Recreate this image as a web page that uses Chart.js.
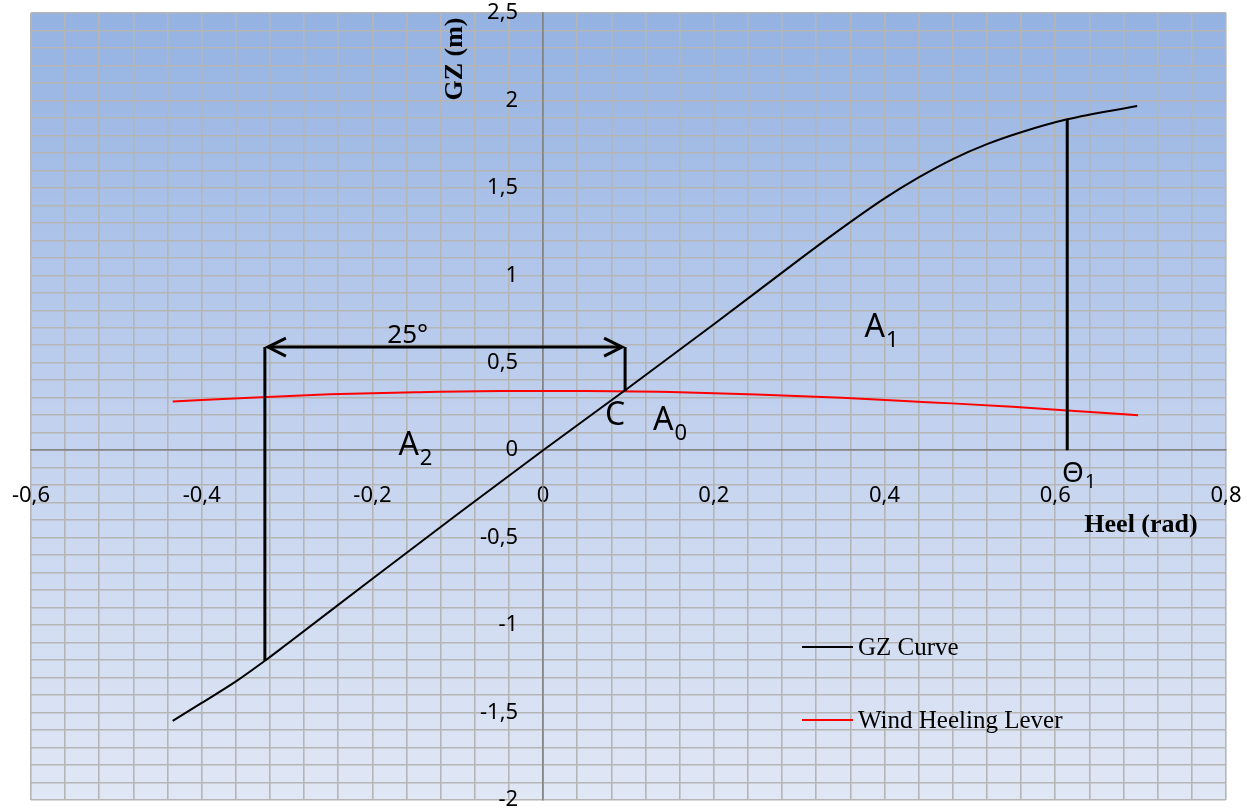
<!DOCTYPE html>
<html>
<head>
<meta charset="utf-8">
<script src="https://cdn.jsdelivr.net/npm/chart.js@4.4.1/dist/chart.umd.min.js"></script>
<style>
  body { margin: 0; background: #ffffff; }
  #wrap { width: 1247px; height: 808px; }
</style>
</head>
<body>
<div id="wrap"><canvas id="gz" width="1247" height="808"></canvas></div>
<script>
// GZ curve
const GZ_HEEL = [-0.434, -0.4, -0.359, -0.326, -0.3, -0.2, -0.1, 0, 0.1, 0.2, 0.3, 0.35, 0.4, 0.44, 0.48, 0.52, 0.56, 0.614, 0.696];
const GZ_VALUES = [-1.548, -1.445, -1.319, -1.204, -1.108, -0.735, -0.365, 0, 0.357, 0.72, 1.09, 1.27, 1.44, 1.56, 1.665, 1.75, 1.818, 1.892, 1.968];

// wind heeling lever
const WIND_HEEL = [-0.434, -0.35, -0.25, -0.15, -0.05, 0.05, 0.15, 0.25, 0.35, 0.45, 0.55, 0.65, 0.697];
const WIND_VALUES = [0.278, 0.299, 0.320, 0.332, 0.339, 0.339, 0.333, 0.319, 0.300, 0.275, 0.249, 0.215, 0.200];

// construction lines
const THETA1 = 0.614;
const THETA1_GZ = 1.892;
const LEFT_HEEL = -0.326;
const LEFT_GZ = -1.204;
const C_HEEL = 0.096;
const C_GZ = 0.338;
const ARROW_LEVEL = 0.59;

// axis range / tick steps
const X_MIN = -0.6, X_MAX = 0.8, X_GRID = 0.04, X_LABEL_STEP = 0.2;
const Y_MIN = -2, Y_MAX = 2.5, Y_GRID = 0.1, Y_LABEL_STEP = 0.5;

// text marks: [text, subscript, heel, gz]
const NOTES = [
    ['25°', '', -0.1825, 0.614],
    ['A', '1', 0.3766, 0.648],
    ['C', '', 0.0725, 0.143],
    ['A', '0', 0.1287, 0.115],
    ['A', '2', -0.1696, -0.029],
    ['Θ', '1', 0.608, -0.183]
];

function toPoints(xs, ys) {
    return xs.map(function (x, i) { return { x: x, y: ys[i] }; });
}

function isStep(v, step) {
    const r = v / step;
    return Math.abs(r - Math.round(r)) < 1e-6;
}

function fmt(v) {
    return String(Number(v.toFixed(2))).replace('.', ',');
}

// no extra room for overhanging tick labels
function noPadding(scale) {
    scale.paddingLeft = 0;
    scale.paddingRight = 0;
    scale.paddingTop = 0;
    scale.paddingBottom = 0;
}

const plotBackground = {
    id: 'plotBackground',
    beforeDraw: function (chart) {
        const a = chart.chartArea;
        const c = chart.ctx;
        const g = c.createLinearGradient(0, a.top, 0, a.bottom);
        g.addColorStop(0, '#94b2e2');
        g.addColorStop(0.55, '#c4d3ef');
        g.addColorStop(1, '#e0e7f5');
        c.save();
        c.fillStyle = g;
        c.fillRect(a.left, a.top, a.right - a.left, a.bottom - a.top);
        c.restore();
    }
};

const decorations = {
    id: 'decorations',
    afterDatasetsDraw: function (chart) {
        const c = chart.ctx;
        const xs = chart.scales.x, ys = chart.scales.y;
        c.save();

        // y tick labels sit left of the zero axis (v4 ignores padding there)
        const x0 = xs.getPixelForValue(0);
        c.font = '22px "Noto Sans"';
        c.fillStyle = '#000';
        c.textAlign = 'right';
        c.textBaseline = 'middle';
        ys.ticks.forEach(function (t) {
            if (t.label) c.fillText(t.label, x0 - 25, ys.getPixelForValue(t.value));
        });

        // arrow heads on the 25° dimension line
        const yA = ys.getPixelForValue(ARROW_LEVEL);
        const xl = xs.getPixelForValue(LEFT_HEEL) + 3;
        const xr = xs.getPixelForValue(C_HEEL) - 3;
        c.strokeStyle = '#000';
        c.lineWidth = 3;
        c.beginPath();
        c.moveTo(xl + 18, yA - 9); c.lineTo(xl, yA); c.lineTo(xl + 18, yA + 9);
        c.moveTo(xr - 18, yA - 9); c.lineTo(xr, yA); c.lineTo(xr - 18, yA + 9);
        c.stroke();

        // labels
        c.textBaseline = 'alphabetic';
        c.textAlign = 'left';
        NOTES.forEach(function (n) {
            const px = xs.getPixelForValue(n[2]);
            const py = ys.getPixelForValue(n[3]);
            const big = n[0] === '25°' ? 26 : (n[0] === 'Θ' ? 28 : 32);
            c.font = big + 'px "Noto Sans"';
            c.fillText(n[0], px, py);
            if (n[1]) {
                const w = c.measureText(n[0]).width;
                c.font = (n[0] === 'Θ' ? 19 : 22) + 'px "Noto Sans"';
                c.fillText(n[1], px + w + 1, py + (n[0] === 'Θ' ? 6 : 10));
            }
        });

        // axis titles
        c.font = 'bold 26px "Liberation Serif"';
        c.textAlign = 'center';
        c.textBaseline = 'middle';
        c.fillText('Heel (rad)', 1141, 525);
        c.save();
        c.translate(455, 59);
        c.rotate(-Math.PI / 2);
        c.fillText('GZ (m)', 0, 0);
        c.restore();

        // legend
        const rows = [[0, 647], [1, 720]];
        c.font = '25px "Liberation Serif"';
        c.textAlign = 'left';
        rows.forEach(function (r) {
            const ds = chart.data.datasets[r[0]];
            c.strokeStyle = ds.borderColor;
            c.lineWidth = 2;
            c.beginPath();
            c.moveTo(802, r[1]);
            c.lineTo(853, r[1]);
            c.stroke();
            c.fillStyle = '#000';
            c.fillText(ds.label, 858, r[1] + 1);
        });
        c.restore();
    }
};

function guide(points) {
    return {
        label: '',
        data: points,
        borderColor: '#000000',
        borderWidth: 3,
        pointRadius: 0,
        tension: 0,
        order: 0
    };
}

const data = {
    datasets: [{
        label: 'GZ Curve',
        data: toPoints(GZ_HEEL, GZ_VALUES),
        borderColor: '#000000',
        borderWidth: 2,
        pointRadius: 0,
        cubicInterpolationMode: 'monotone',
        order: 1
    }, {
        label: 'Wind Heeling Lever',
        data: toPoints(WIND_HEEL, WIND_VALUES),
        borderColor: '#ff0000',
        borderWidth: 2,
        pointRadius: 0,
        cubicInterpolationMode: 'monotone',
        order: 2
    },
    guide([{ x: THETA1, y: 0 }, { x: THETA1, y: THETA1_GZ }]),
    guide([{ x: LEFT_HEEL, y: LEFT_GZ }, { x: LEFT_HEEL, y: ARROW_LEVEL }]),
    guide([{ x: C_HEEL, y: C_GZ }, { x: C_HEEL, y: ARROW_LEVEL }]),
    guide([{ x: LEFT_HEEL + 0.004, y: ARROW_LEVEL }, { x: C_HEEL - 0.004, y: ARROW_LEVEL }])
    ]
};

const tickFont = { family: '"Noto Sans"', size: 22 };

function gridColor(ctx) {
    return ctx.tick && ctx.tick.value === 0 ? '#858585' : '#b5b5b5';
}

const options = {
    responsive: false,
    animation: false,
    devicePixelRatio: 1,
    layout: {
        padding: { left: 31, right: 21, top: 13, bottom: 8 }
    },
    scales: {
        x: {
            type: 'linear',
            position: { y: 0 },
            min: X_MIN,
            max: X_MAX,
            afterFit: noPadding,
            grid: { color: gridColor, lineWidth: 1.6, drawTicks: false },
            border: { color: '#858585', width: 1.6 },
            ticks: {
                stepSize: X_GRID,
                autoSkip: false,
                maxRotation: 0,
                padding: 32,
                color: '#000',
                font: tickFont,
                callback: function (value) {
                    return isStep(value, X_LABEL_STEP) ? fmt(value) : '';
                }
            }
        },
        y: {
            type: 'linear',
            position: { x: 0 },
            min: Y_MIN,
            max: Y_MAX,
            afterFit: noPadding,
            grid: { color: gridColor, lineWidth: 1.6, drawTicks: false },
            border: { color: '#858585', width: 1.6 },
            ticks: {
                display: false,
                stepSize: Y_GRID,
                autoSkip: false,
                callback: function (value) {
                    return isStep(value, Y_LABEL_STEP) ? fmt(value) : '';
                }
            }
        }
    },
    plugins: {
        legend: { display: false },
        tooltip: { enabled: false }
    }
};

var chart = new Chart(document.getElementById('gz'), {
    type: 'line',
    data: data,
    options: options,
    plugins: [plotBackground, decorations]
});
</script>
</body>
</html>
